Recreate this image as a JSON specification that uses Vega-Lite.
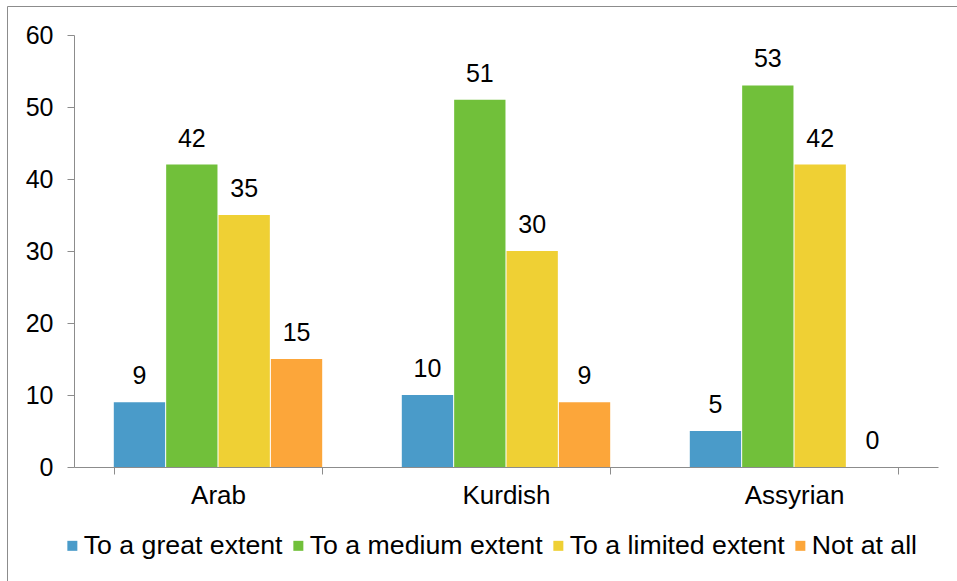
{
  "$schema": "https://vega.github.io/schema/vega-lite/v6.json",
  "usermeta": {"embedOptions": {"actions": false}},
  "autosize": {"type": "none"},
  "padding": {"left": 7, "top": 6, "right": -3, "bottom": -3},
  "width": 953,
  "height": 578,
  "background": "white",
  "config": {
    "font": "Liberation Sans",
    "view": {"stroke": "#8c8c8c", "strokeWidth": 1}
  },
  "data": {
    "values": [
      {"group": "Arab", "response": "To a great extent", "percent": 9},
      {"group": "Arab", "response": "To a medium extent", "percent": 42},
      {"group": "Arab", "response": "To a limited extent", "percent": 35},
      {"group": "Arab", "response": "Not at all", "percent": 15},
      {"group": "Kurdish", "response": "To a great extent", "percent": 10},
      {"group": "Kurdish", "response": "To a medium extent", "percent": 51},
      {"group": "Kurdish", "response": "To a limited extent", "percent": 30},
      {"group": "Kurdish", "response": "Not at all", "percent": 9},
      {"group": "Assyrian", "response": "To a great extent", "percent": 5},
      {"group": "Assyrian", "response": "To a medium extent", "percent": 53},
      {"group": "Assyrian", "response": "To a limited extent", "percent": 42},
      {"group": "Assyrian", "response": "Not at all", "percent": 0}
    ]
  },
  "encoding": {
    "x": {
      "field": "group",
      "type": "nominal",
      "sort": ["Arab", "Kurdish", "Assyrian"],
      "scale": {"range": [67, 931], "paddingInner": 0.2764, "paddingOuter": 0.1382},
      "axis": {
        "title": null,
        "orient": "bottom",
        "offset": -117,
        "tickBand": "extent",
        "tickSize": 7,
        "labelPadding": 8,
        "labelAngle": 0,
        "labelFontSize": 26,
        "labelColor": "black",
        "domainColor": "#8c8c8c",
        "tickColor": "#8c8c8c",
        "grid": false
      }
    },
    "xOffset": {
      "field": "response",
      "type": "nominal",
      "sort": ["To a great extent", "To a medium extent", "To a limited extent", "Not at all"],
      "scale": {"paddingInner": 0.02}
    },
    "y": {
      "field": "percent",
      "type": "quantitative",
      "scale": {"domain": [0, 60], "range": [461, 29]},
      "axis": {
        "title": null,
        "orient": "left",
        "offset": -67,
        "values": [0, 10, 20, 30, 40, 50, 60],
        "tickSize": 7,
        "labelPadding": 14,
        "labelFontSize": 25,
        "labelColor": "black",
        "labelFlush": false,
        "labelOverlap": false,
        "domainColor": "#8c8c8c",
        "tickColor": "#8c8c8c",
        "grid": false
      }
    }
  },
  "layer": [
    {
      "mark": {"type": "bar"},
      "encoding": {
        "color": {
          "field": "response",
          "type": "nominal",
          "scale": {
            "domain": ["To a great extent", "To a medium extent", "To a limited extent", "Not at all"],
            "range": ["#4a9bc9", "#71c03a", "#efd034", "#fca63a"]
          },
          "legend": {
            "title": null,
            "orient": "none",
            "legendX": 52,
            "legendY": 526,
            "direction": "horizontal",
            "columns": 4,
            "symbolType": "square",
            "symbolSize": 100,
            "symbolStrokeWidth": 0,
            "labelFontSize": 26.7,
            "labelColor": "black",
            "labelOffset": -2,
            "labelLimit": 0,
            "columnPadding": 2
          }
        }
      }
    },
    {
      "mark": {"type": "text", "fontSize": 25, "dy": -18, "baseline": "alphabetic", "align": "center", "color": "black"},
      "encoding": {
        "text": {"field": "percent", "type": "quantitative"}
      }
    }
  ]
}
